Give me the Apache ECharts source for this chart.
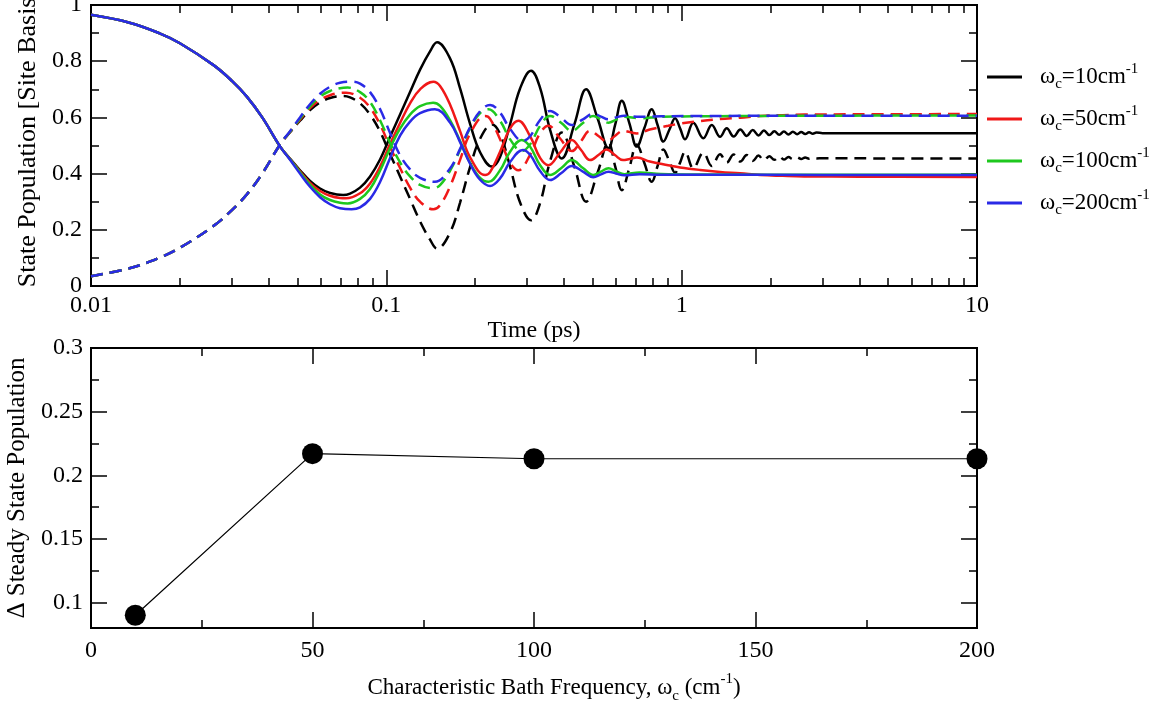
<!DOCTYPE html>
<html><head><meta charset="utf-8">
<script src="https://cdn.jsdelivr.net/npm/echarts@6/dist/echarts.min.js"></script>
<style>html,body{margin:0;padding:0;background:#fff}#c{width:1165px;height:704px}</style>
</head><body><div id="c"></div>
<script>
// ---------------- data ----------------
const omegaC = [10, 50, 100, 200];
const timeTickValues = [0.01, 0.1, 1, 10];
const timeTickLabels = ['0.01', '0.1', '1', '10'];
const timeMinorTicks = [0.02,0.03,0.04,0.05,0.06,0.07,0.08,0.09,0.2,0.3,0.4,0.5,0.6,0.7,0.8,0.9,2,3,4,5,6,7,8,9];
const deltaTickValues = [0.1, 0.15, 0.2, 0.25, 0.3];
const deltaTickLabels = ['0.1', '0.15', '0.2', '0.25', '0.3'];
const deltaMinorTicks = [0.125, 0.175, 0.225, 0.275];

// site-1 populations (solid) and site-2 populations (dashed): [time (ps), population]
const solid10 = [[0.010,0.965],[0.0135,0.937],[0.017,0.900],[0.020,0.864],[0.026,0.786],[0.030,0.730],[0.0337,0.674],[0.038,0.600],[0.0437,0.496],[0.0472,0.453],
 [0.0510,0.412],[0.05516,0.374],[0.05964,0.347],[0.06448,0.331],[0.0714,0.324],[0.07536,0.329],[0.08147,0.350],[0.08808,0.390],[0.09521,0.450],[0.1029,0.530],[0.1113,0.610],[0.1203,0.690],[0.1301,0.770],[0.1406,0.835],[0.1485,0.867],[0.1643,0.810],[0.1777,0.703],[0.1921,0.577],[0.2077,0.476],[0.228,0.425],[0.2427,0.459],[0.2624,0.575],[0.2837,0.703],[0.309,0.766],[0.3316,0.705],[0.3585,0.556],[0.3926,0.454],
 [0.4337,0.577],[0.4747,0.700],[0.5197,0.595],[0.5647,0.490],[0.5958,0.575],[0.627,0.659],[0.6658,0.578],[0.7046,0.496],[0.7482,0.563],[0.7917,0.629],[0.8294,0.572],[0.867,0.514],[0.9085,0.556],[0.950,0.597],[0.9885,0.560],[1.027,0.522],[1.095,0.581],[1.184,0.526],[1.265,0.573],[1.349,0.531],[1.421,0.561],
 [1.50,0.532],[1.58,0.557],[1.66,0.534],[1.74,0.555],[1.82,0.536],[1.90,0.553],[1.98,0.537],[2.06,0.551],[2.14,0.538],[2.22,0.550],[2.30,0.539],[2.38,0.549],[2.46,0.540],[2.54,0.548],[2.62,0.541],[2.70,0.547],[2.78,0.542],[2.86,0.546],[3.0,0.544],[5.0,0.544],[10,0.544]];
const dashed10 = [[0.010,0.035],[0.0135,0.063],[0.017,0.100],[0.020,0.136],[0.026,0.214],[0.030,0.270],[0.0337,0.326],[0.038,0.400],[0.0437,0.504],[0.0472,0.547],
 [0.0510,0.588],[0.05516,0.626],[0.05964,0.653],[0.06448,0.669],[0.0714,0.676],[0.07536,0.671],[0.08147,0.650],[0.08808,0.610],[0.09521,0.550],[0.1029,0.470],[0.1113,0.390],[0.1203,0.310],[0.1301,0.230],[0.1406,0.165],[0.1485,0.133],[0.1643,0.190],[0.1777,0.297],[0.1921,0.423],[0.2077,0.524],[0.228,0.575],[0.2427,0.541],[0.2624,0.425],[0.2837,0.297],[0.309,0.234],[0.3316,0.295],[0.3585,0.444],[0.3926,0.546],
 [0.4337,0.423],[0.4747,0.300],[0.5197,0.405],[0.5647,0.510],[0.5958,0.425],[0.627,0.341],[0.6658,0.422],[0.7046,0.504],[0.7482,0.437],[0.7917,0.371],[0.8294,0.428],[0.867,0.486],[0.9085,0.444],[0.950,0.403],[0.9885,0.440],[1.027,0.478],[1.095,0.419],[1.184,0.474],[1.265,0.427],[1.349,0.469],[1.421,0.439],
 [1.50,0.468],[1.58,0.443],[1.66,0.466],[1.74,0.445],[1.82,0.464],[1.90,0.447],[1.98,0.462],[2.06,0.449],[2.14,0.461],[2.22,0.450],[2.30,0.459],[2.38,0.451],[2.46,0.458],[2.54,0.452],[2.62,0.457],[2.70,0.453],[2.78,0.456],[2.86,0.454],[3.0,0.455],[5.0,0.454],[10,0.454]];
const solid50 = [[0.010,0.965],[0.0135,0.937],[0.017,0.900],[0.020,0.864],[0.026,0.786],[0.030,0.730],[0.0337,0.674],[0.038,0.600],[0.0437,0.496],[0.0472,0.452],
 [0.0510,0.408],[0.05516,0.367],[0.05964,0.338],[0.06448,0.321],[0.0697,0.313],[0.073,0.312],[0.08147,0.330],[0.08808,0.365],[0.09521,0.425],[0.1029,0.505],[0.1113,0.580],[0.1203,0.650],[0.1301,0.700],[0.1443,0.727],[0.1520,0.712],[0.1643,0.646],[0.1777,0.551],[0.1921,0.458],[0.216,0.395],[0.2245,0.405],[0.2427,0.478],[0.2624,0.561],[0.280,0.588],[0.3067,0.533],[0.3316,0.456],[0.3537,0.430],[0.3876,0.475],[0.4245,0.520],[0.4564,0.484],[0.4896,0.448],[0.524,0.467],[0.5577,0.486],[0.594,0.466],[0.633,0.448],[0.667,0.452],[0.705,0.457],
 [0.78,0.443],[0.90,0.430],[0.988,0.422],[1.154,0.413],[1.349,0.406],[1.577,0.401],[1.843,0.395],[2.2,0.392],[2.6,0.390],[4,0.389],[10,0.388]];
const dashed50 = [[0.010,0.035],[0.0135,0.063],[0.017,0.100],[0.020,0.136],[0.026,0.214],[0.030,0.270],[0.0337,0.326],[0.038,0.400],[0.0437,0.504],[0.0472,0.548],
 [0.0510,0.592],[0.05516,0.633],[0.05964,0.662],[0.06448,0.679],[0.0697,0.687],[0.073,0.688],[0.08147,0.670],[0.08808,0.635],[0.09521,0.575],[0.1029,0.495],[0.1113,0.420],[0.1203,0.350],[0.1301,0.300],[0.1443,0.273],[0.1520,0.288],[0.1643,0.354],[0.1777,0.449],[0.1921,0.542],[0.216,0.605],[0.2245,0.595],[0.2427,0.522],[0.2624,0.439],[0.280,0.412],[0.3067,0.467],[0.3316,0.544],[0.3537,0.570],[0.3876,0.525],[0.4245,0.480],[0.4564,0.516],[0.4896,0.552],[0.524,0.533],[0.5577,0.514],[0.594,0.534],[0.633,0.552],[0.667,0.548],[0.705,0.543],
 [0.78,0.557],[0.90,0.570],[0.988,0.578],[1.154,0.587],[1.349,0.594],[1.577,0.599],[1.843,0.605],[2.2,0.608],[2.6,0.610],[4,0.611],[10,0.612]];
const solid100 = [[0.010,0.965],[0.0135,0.937],[0.017,0.900],[0.020,0.864],[0.026,0.786],[0.030,0.730],[0.0337,0.674],[0.038,0.600],[0.0437,0.496],[0.0472,0.451],
 [0.0510,0.405],[0.05516,0.361],[0.05964,0.326],[0.06448,0.306],[0.0697,0.296],[0.074,0.294],[0.08147,0.310],[0.08808,0.345],[0.09521,0.410],[0.1029,0.490],[0.1113,0.560],[0.1203,0.610],[0.1301,0.640],[0.144,0.652],[0.1520,0.641],[0.1643,0.590],[0.1777,0.516],[0.1921,0.438],[0.2077,0.385],[0.2216,0.371],[0.2427,0.412],[0.2624,0.478],[0.2874,0.520],[0.3067,0.496],[0.3316,0.430],[0.3585,0.395],[0.3915,0.420],[0.4245,0.448],[0.463,0.420],[0.502,0.395],[0.533,0.407],[0.565,0.419],[0.60,0.408],[0.64,0.398],
 [0.72,0.404],[0.85,0.399],[1.2,0.397],[3,0.396],[10,0.396]];
const dashed100 = [[0.010,0.035],[0.0135,0.063],[0.017,0.100],[0.020,0.136],[0.026,0.214],[0.030,0.270],[0.0337,0.326],[0.038,0.400],[0.0437,0.504],[0.0472,0.549],
 [0.0510,0.595],[0.05516,0.639],[0.05964,0.674],[0.06448,0.694],[0.0697,0.704],[0.074,0.706],[0.08147,0.690],[0.08808,0.655],[0.09521,0.590],[0.1029,0.510],[0.1113,0.440],[0.1203,0.390],[0.1301,0.360],[0.144,0.348],[0.1520,0.359],[0.1643,0.410],[0.1777,0.484],[0.1921,0.562],[0.2077,0.615],[0.2216,0.629],[0.2427,0.588],[0.2624,0.522],[0.2874,0.480],[0.3067,0.504],[0.3316,0.570],[0.3585,0.605],[0.3915,0.580],[0.4245,0.552],[0.463,0.580],[0.502,0.605],[0.533,0.593],[0.565,0.581],[0.60,0.592],[0.64,0.602],
 [0.72,0.597],[0.85,0.602],[1.2,0.604],[3,0.606],[10,0.607]];
const solid200 = [[0.010,0.965],[0.0135,0.937],[0.017,0.900],[0.020,0.864],[0.026,0.786],[0.030,0.730],[0.0337,0.674],[0.038,0.600],[0.0437,0.496],[0.0472,0.449],
 [0.0510,0.400],[0.05516,0.353],[0.05964,0.316],[0.06448,0.291],[0.0697,0.277],[0.0763,0.273],[0.08147,0.280],[0.08808,0.310],[0.09521,0.370],[0.1029,0.455],[0.1113,0.535],[0.1203,0.585],[0.1301,0.615],[0.146,0.629],[0.1643,0.582],[0.1777,0.512],[0.1921,0.435],[0.2077,0.378],[0.2245,0.356],[0.2427,0.383],[0.2624,0.441],[0.29,0.484],[0.3067,0.467],[0.3316,0.409],[0.3585,0.377],[0.3915,0.402],[0.4245,0.427],[0.463,0.407],[0.502,0.387],[0.533,0.397],[0.565,0.407],[0.60,0.400],[0.64,0.394],
 [0.72,0.398],[0.85,0.396],[1.2,0.396],[3,0.395],[10,0.395]];
const dashed200 = [[0.010,0.035],[0.0135,0.063],[0.017,0.100],[0.020,0.136],[0.026,0.214],[0.030,0.270],[0.0337,0.326],[0.038,0.400],[0.0437,0.504],[0.0472,0.551],
 [0.0510,0.600],[0.05516,0.647],[0.05964,0.684],[0.06448,0.709],[0.0697,0.723],[0.0763,0.727],[0.08147,0.720],[0.08808,0.690],[0.09521,0.630],[0.1029,0.545],[0.1113,0.465],[0.1203,0.415],[0.1301,0.385],[0.146,0.371],[0.1643,0.418],[0.1777,0.488],[0.1921,0.565],[0.2077,0.622],[0.2245,0.644],[0.2427,0.617],[0.2624,0.559],[0.29,0.516],[0.3067,0.533],[0.3316,0.591],[0.3585,0.623],[0.3915,0.598],[0.4245,0.573],[0.463,0.593],[0.502,0.613],[0.533,0.603],[0.565,0.593],[0.60,0.600],[0.64,0.606],
 [0.72,0.602],[0.85,0.604],[1.2,0.605],[3,0.606],[10,0.606]];

// bottom panel
const bathFreq = [10, 50, 100, 200];
const deltaSteady = [0.090, 0.217, 0.213, 0.213];

// ---------------- styling ----------------
const FONT = '"Liberation Serif", "Times New Roman", serif';
const colors = ['#000000', '#f01818', '#1ec81e', '#2a2ae6'];
const solidSets = [solid10, solid50, solid100, solid200];
const dashedSets = [dashed10, dashed50, dashed100, dashed200];
const names = omegaC.map(v => 'ωc=' + v + 'cm-1');

const lbl = {fontFamily: FONT, fontSize: 24, color: '#000'};
const tickStyle = {color: '#000', width: 1.5};
const MAJ = 16, MIN = 8;

function nearestLabel(vals, labs, v, useLog) {
  let best = 0;
  const f = x => useLog ? Math.log10(x) : x;
  vals.forEach((t, i) => { if (Math.abs(f(t) - f(v)) < Math.abs(f(vals[best]) - f(v))) best = i; });
  return labs[best];
}
function logAxis(pos, values, len, labels) {
  return {
    type: 'log', logBase: 10, gridIndex: 0, min: 0.01, max: 10, position: pos,
    axisLine: {show: false, onZero: false}, splitLine: {show: false},
    axisTick: {show: true, inside: true, length: len, lineStyle: tickStyle, customValues: values},
    axisLabel: labels ? {show: true, customValues: values, margin: 8, ...lbl,
      formatter: v => nearestLabel(timeTickValues, timeTickLabels, v, true)} : {show: false}
  };
}
function deltaAxis(pos, values, len, labels) {
  return {
    type: 'value', gridIndex: 1, min: 0.08, max: 0.3, position: pos,
    axisLine: {show: false, onZero: false}, splitLine: {show: false},
    axisTick: {show: true, inside: true, length: len, lineStyle: tickStyle, customValues: values},
    axisLabel: labels ? {show: true, customValues: values, margin: 8, ...lbl,
      formatter: v => nearestLabel(deltaTickValues, deltaTickLabels, v, false)} : {show: false},
    name: labels && pos === 'left' ? 'Δ Steady State Population' : '',
    nameLocation: 'middle', nameGap: 56, nameTextStyle: {...lbl, fontSize: 25}
  };
}

const richSub = {
  s: {fontFamily: FONT, fontSize: 15, lineHeight: 15, verticalAlign: 'bottom', color: '#000'},
  p: {fontFamily: FONT, fontSize: 15, lineHeight: 15, verticalAlign: 'top', color: '#000'}
};

const xAxes = [
  Object.assign(logAxis('bottom', timeTickValues, MAJ, true), {
    name: 'Time (ps)', nameLocation: 'middle', nameGap: 30, nameTextStyle: lbl
  }),
  logAxis('bottom', timeMinorTicks, MIN, false),
  logAxis('top', timeTickValues, MAJ, false),
  logAxis('top', timeMinorTicks, MIN, false),
  {
    type: 'value', gridIndex: 1, min: 0, max: 200, interval: 50, position: 'bottom',
    axisLine: {show: false, onZero: false}, splitLine: {show: false},
    axisTick: {inside: true, length: MAJ, lineStyle: tickStyle},
    minorTick: {show: true, splitNumber: 2, length: MIN, lineStyle: tickStyle},
    axisLabel: {margin: 11, ...lbl},
    name: '{m|Characteristic Bath Frequency, ω}{s|c}{m| (cm}{p|-1}{m|)}',
    nameLocation: 'middle', nameGap: 44,
    nameTextStyle: {...lbl, fontSize: 23, padding: [0, 0, 0, 40], rich: Object.assign({
      m: {fontFamily: FONT, fontSize: 23, lineHeight: 32, color: '#000'}}, richSub)}
  },
  {
    type: 'value', gridIndex: 1, min: 0, max: 200, interval: 50, position: 'top',
    axisLine: {show: false, onZero: false}, splitLine: {show: false},
    axisTick: {inside: true, length: MAJ, lineStyle: tickStyle},
    minorTick: {show: true, splitNumber: 2, length: MIN, lineStyle: tickStyle},
    axisLabel: {show: false}
  }
];

const yAxes = [
  {
    type: 'value', gridIndex: 0, min: 0, max: 1, interval: 0.2, position: 'left',
    axisLine: {show: false, onZero: false}, splitLine: {show: false},
    axisTick: {inside: true, length: MAJ, lineStyle: tickStyle},
    minorTick: {show: true, splitNumber: 2, length: MIN, lineStyle: tickStyle},
    axisLabel: {margin: 9, ...lbl},
    name: 'State Population [Site Basis]', nameLocation: 'middle', nameGap: 48,
    nameTextStyle: {...lbl, fontSize: 26, padding: [0, 0, 0, 15]}
  },
  {
    type: 'value', gridIndex: 0, min: 0, max: 1, interval: 0.2, position: 'right',
    axisLine: {show: false, onZero: false}, splitLine: {show: false},
    axisTick: {inside: true, length: MAJ, lineStyle: tickStyle},
    minorTick: {show: true, splitNumber: 2, length: MIN, lineStyle: tickStyle},
    axisLabel: {show: false}
  },
  deltaAxis('left', deltaTickValues, MAJ, true),
  deltaAxis('left', deltaMinorTicks, MIN, false),
  deltaAxis('right', deltaTickValues, MAJ, false),
  deltaAxis('right', deltaMinorTicks, MIN, false)
];

const series = [];
omegaC.forEach((w, i) => {
  series.push({
    name: names[i], type: 'line', xAxisIndex: 0, yAxisIndex: 0,
    data: solidSets[i], showSymbol: false, symbol: 'none', smooth: 0.4,
    color: colors[i], itemStyle: {color: colors[i]},
    lineStyle: {color: colors[i], width: 2.5}, z: 2 + i
  });
  series.push({
    name: names[i] + ' (site 2)', type: 'line', xAxisIndex: 0, yAxisIndex: 0,
    data: dashedSets[i], showSymbol: false, symbol: 'none', smooth: 0.4,
    color: colors[i], itemStyle: {color: colors[i]},
    lineStyle: {color: colors[i], width: 2.5, type: [12, 7]}, z: 2 + i
  });
});
series.push({
  name: 'Δ steady state', type: 'line', xAxisIndex: 4, yAxisIndex: 2,
  data: bathFreq.map((f, i) => [f, deltaSteady[i]]),
  symbol: 'circle', symbolSize: 21, showSymbol: true,
  itemStyle: {color: '#000'}, lineStyle: {color: '#000', width: 1.2}, z: 10
});

const chart = echarts.init(document.getElementById('c'), null, {renderer: 'canvas'});
chart.setOption({
  animation: false,
  backgroundColor: '#fff',
  grid: [
    {left: 91, top: 5, width: 886, height: 281, show: true, borderColor: '#000', borderWidth: 2, backgroundColor: 'transparent', containLabel: false, outerBoundsMode: 'none'},
    {left: 91, top: 348, width: 886, height: 280, show: true, borderColor: '#000', borderWidth: 2, backgroundColor: 'transparent', containLabel: false, outerBoundsMode: 'none'}
  ],
  legend: {
    data: names, orient: 'vertical', left: 982, top: 57, itemGap: 12,
    icon: 'rect', itemWidth: 35, itemHeight: 3,
    formatter: n => { const v = n.match(/=(\d+)/)[1]; return '{m|ω}{s|c}{m|=' + v + 'cm}{p|-1}'; },
    textStyle: {fontFamily: FONT, fontSize: 23, color: '#000', padding: [0, 0, 0, 13], rich: Object.assign({
      m: {fontFamily: FONT, fontSize: 23, lineHeight: 30, color: '#000'}}, richSub)}
  },
  xAxis: xAxes,
  yAxis: yAxes,
  series: series
});
</script></body></html>
